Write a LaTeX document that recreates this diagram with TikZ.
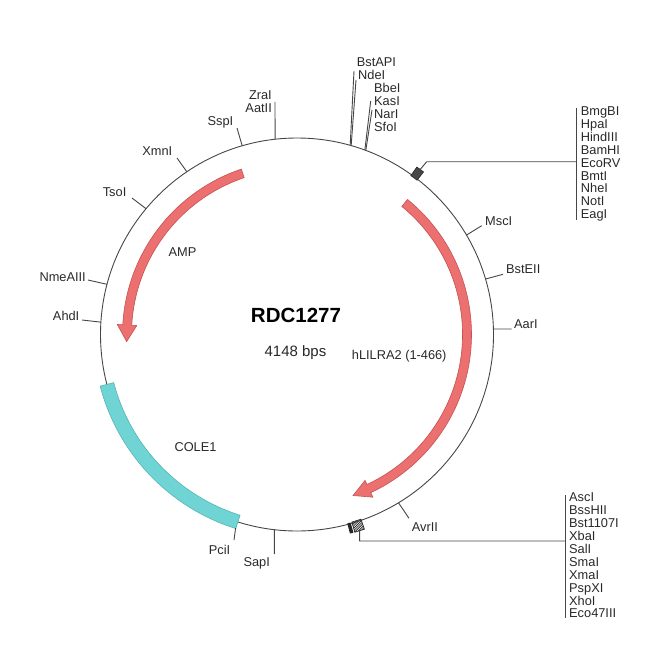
\documentclass[tikz,border=0pt]{standalone}
\usepackage{fontspec}
\setmainfont{Liberation Sans}
\definecolor{linec}{RGB}{70,70,70}
\definecolor{labc}{RGB}{40,40,40}
\definecolor{redf}{RGB}{236,112,112}
\definecolor{redd}{RGB}{196,82,82}
\definecolor{cyanf}{RGB}{112,212,212}
\definecolor{cyand}{RGB}{82,182,182}
\begin{document}
\begin{tikzpicture}[x=1bp,y=-1bp,
  lbl/.style={font=\fontsize{12.8bp}{13bp}\selectfont, text=labc, inner sep=0pt},
  title/.style={font=\fontsize{20.5bp}{22bp}\selectfont\bfseries, text=black, inner sep=0pt},
  sub/.style={font=\fontsize{15bp}{16bp}\selectfont, text=labc, inner sep=0pt},
  tick/.style={draw=linec, line width=0.9bp},
  circ/.style={draw=linec, line width=0.9bp},
  redarrow/.style={fill=redf, draw=redd, line width=0.6bp},
  cyanband/.style={fill=cyanf, draw=cyand, line width=0.6bp},
  leader/.style={draw=linec, line width=0.9bp}]
\useasboundingbox (0,0) rectangle (650,650);
\coordinate (C) at (297,334.5);
% backbone
\draw[circ] (C) circle[radius=196.5];
% COLE1 band
\filldraw[cyanband] ([shift={(297,334.5)}]107.5:203.5) arc[start angle=107.5,end angle=165.3,radius=203.5]
  -- ([shift={(297,334.5)}]165.3:189.5) arc[start angle=165.3,end angle=107.5,radius=189.5] -- cycle;
% AMP arrow
\filldraw[redarrow] ([shift={(297,334.5)}]-108.6:174.5) arc[start angle=-108.6,end angle=-176.8,radius=174.5]
  -- ([shift={(297,334.5)}]-176.8:180) -- ([shift={(297,334.5)}]-182.4:170.5)
  -- ([shift={(297,334.5)}]-176.8:160.5) -- ([shift={(297,334.5)}]-176.8:165.5)
  arc[start angle=-176.8,end angle=-108.6,radius=165.5] -- cycle;
% hLILRA2 arrow
\filldraw[redarrow] ([shift={(297,334.5)}]-50.7:174.5) arc[start angle=-50.7,end angle=65,radius=174.5]
  -- ([shift={(297,334.5)}]65:179.5) -- ([shift={(297,334.5)}]70.8:170.5)
  -- ([shift={(297,334.5)}]65:161) -- ([shift={(297,334.5)}]65:165.5)
  arc[start angle=65,end angle=-50.7,radius=165.5] -- cycle;
% feature labels
\node[title, anchor=base] (ttl) at (296,322) {RDC1277};
\node[sub, anchor=base] (bps) at (295.5,356) {4148 bps};
\node[lbl, anchor=base] (amp) at (182.5,256) {AMP};
\node[lbl, anchor=base] (cole) at (195.5,451.5) {COLE1};
\node[lbl, anchor=base west] (hli) at (351.7,359.5) {hLILRA2 (1-466)};
% tick coordinates
\coordinate (sspA) at ([shift={(297,334.5)}]-106.2:196.5); \coordinate (sspB) at (237,128);
\coordinate (xmnA) at ([shift={(297,334.5)}]-124.1:196.5); \coordinate (xmnB) at (177,158);
\coordinate (tsoA) at ([shift={(297,334.5)}]-140.2:196.5); \coordinate (tsoB) at (132,198);
\coordinate (nmeA) at ([shift={(297,334.5)}]-165.2:196.5); \coordinate (nmeB) at (88,280);
\coordinate (ahdA) at ([shift={(297,334.5)}]-176.4:196.5); \coordinate (ahdB) at (82,320);
\coordinate (aatA) at ([shift={(297,334.5)}]-96.4:196.5); \coordinate (aatB) at (275,102);
\coordinate (bstA) at ([shift={(297,334.5)}]-74.3:196.5); \coordinate (bstB) at (354,71);
\coordinate (bstC) at ([shift={(297,334.5)}]-74.0:196.5); \coordinate (bstD) at (356,80);
\coordinate (bbeA) at ([shift={(297,334.5)}]-69.8:196.5); \coordinate (bbeB) at (370.7,101);
\coordinate (bbeC) at ([shift={(297,334.5)}]-69.5:196.5); \coordinate (bbeD) at (372,110);
\coordinate (mscA) at ([shift={(297,334.5)}]-30.4:196.5); \coordinate (mscB) at (481.7,225.7);
\coordinate (bsteA) at ([shift={(297,334.5)}]-16.4:196.5); \coordinate (bsteB) at (503,274.3);
\coordinate (aarA) at ([shift={(297,334.5)}]-1.6:196.5); \coordinate (aarB) at (511.7,329);
\coordinate (avrA) at ([shift={(297,334.5)}]58.9:196.5); \coordinate (avrB) at (409,518.3);
\coordinate (sapA) at ([shift={(297,334.5)}]96.6:196.5); \coordinate (sapB) at (274.3,554);
\coordinate (pciA) at ([shift={(297,334.5)}]107.6:203); \coordinate (pciB) at (234,540);
\foreach \a/\b in {sspA/sspB,xmnA/xmnB,tsoA/tsoB,nmeA/nmeB,ahdA/ahdB,aatA/aatB,bstA/bstB,bstC/bstD,bbeA/bbeB,bbeC/bbeD,mscA/mscB,bsteA/bsteB,aarA/aarB,avrA/avrB,sapA/sapB,pciA/pciB}
  \draw[tick] (\a) -- (\b);
% site labels
\node[lbl, anchor=base east] (ssp) at (233.5,126) {SspI};
\node[lbl, anchor=base east] (xmn) at (172.5,155) {XmnI};
\node[lbl, anchor=base east] (tso) at (126.5,196.5) {TsoI};
\node[lbl, anchor=base east] (nme) at (86,281.5) {NmeAIII};
\node[lbl, anchor=base east] (ahd) at (79.5,320) {AhdI};
\node[lbl, anchor=base east] (zra) at (272,100) {ZraI};
\node[lbl, anchor=base east] (aat) at (272,113) {AatII};
\node[lbl, anchor=base west] (bstapi) at (356.7,66.5) {BstAPI};
\node[lbl, anchor=base west] (nde) at (358,79.5) {NdeI};
\node[lbl, anchor=base west] (bbe) at (374,92.3) {BbeI};
\node[lbl, anchor=base west] (kas) at (374,105.3) {KasI};
\node[lbl, anchor=base west] (nar) at (374,118.3) {NarI};
\node[lbl, anchor=base west] (sfo) at (374,131.3) {SfoI};
\node[lbl, anchor=base west] (msc) at (485,225) {MscI};
\node[lbl, anchor=base west] (bste) at (506,273) {BstEII};
\node[lbl, anchor=base west] (aar) at (514,328) {AarI};
\node[lbl, anchor=base west] (avr) at (411.7,531.5) {AvrII};
\node[lbl, anchor=base] (sap) at (256.7,566.5) {SapI};
\node[lbl, anchor=base] (pci) at (219.5,554) {PciI};
% upper multiple cloning site
\filldraw[fill=black!72, draw=black!85, line width=0.6bp]
  ([shift={(297,334.5)}]-54.4:195.5) -- ([shift={(297,334.5)}]-52.1:195.5)
  -- ([shift={(297,334.5)}]-52.1:206) -- ([shift={(297,334.5)}]-54.4:206) -- cycle;
\coordinate (mcsA1) at ([shift={(297,334.5)}]-53.25:206);
\coordinate (mcsA2) at (426.7,161.7);
\coordinate (mcsA3) at (576.7,161.7);
\coordinate (barAt) at (576.7,108);
\coordinate (barAb) at (576.7,220);
\draw[leader] (mcsA1) -- (mcsA2) -- (mcsA3);
\draw[leader] (barAt) -- (barAb);
\foreach \t [count=\i from 0] in {BmgBI,HpaI,HindIII,BamHI,EcoRV,BmtI,NheI,NotI,EagI}
  \node[lbl, anchor=base west] (mA\i) at (580.7,{115.2+12.96*\i}) {\t};
% lower multiple cloning site
\fill[black!85]
  ([shift={(297,334.5)}]74.1:195.5) -- ([shift={(297,334.5)}]75.1:195.5)
  -- ([shift={(297,334.5)}]75.1:206) -- ([shift={(297,334.5)}]74.1:206) -- cycle;
\begin{scope}
  \clip ([shift={(297,334.5)}]70.9:195.5) -- ([shift={(297,334.5)}]73.7:195.5)
    -- ([shift={(297,334.5)}]73.7:206) -- ([shift={(297,334.5)}]70.9:206) -- cycle;
  \foreach \k in {330,332.4,...,372}
    \draw[black!80, line width=0.8bp] (\k,540) -- (\k+24,516);
\end{scope}
\draw[draw=black!85, line width=0.7bp]
  ([shift={(297,334.5)}]70.9:195.5) -- ([shift={(297,334.5)}]73.7:195.5)
  -- ([shift={(297,334.5)}]73.7:206) -- ([shift={(297,334.5)}]70.9:206) -- cycle;
\coordinate (mcsB1) at ([shift={(297,334.5)}]72.3:206);
\coordinate (mcsB2) at (359.6,541);
\coordinate (mcsB3) at (565,541);
\coordinate (barBt) at (565,495);
\coordinate (barBb) at (565,618);
\draw[leader] (mcsB1) -- (mcsB2) -- (mcsB3);
\draw[leader] (barBt) -- (barBb);
\foreach \t [count=\i from 0] in {AscI,BssHII,Bst1107I,XbaI,SalI,SmaI,XmaI,PspXI,XhoI,Eco47III}
  \node[lbl, anchor=base west] (mB\i) at (569,{501.8+12.9*\i}) {\t};
\end{tikzpicture}
\end{document}
